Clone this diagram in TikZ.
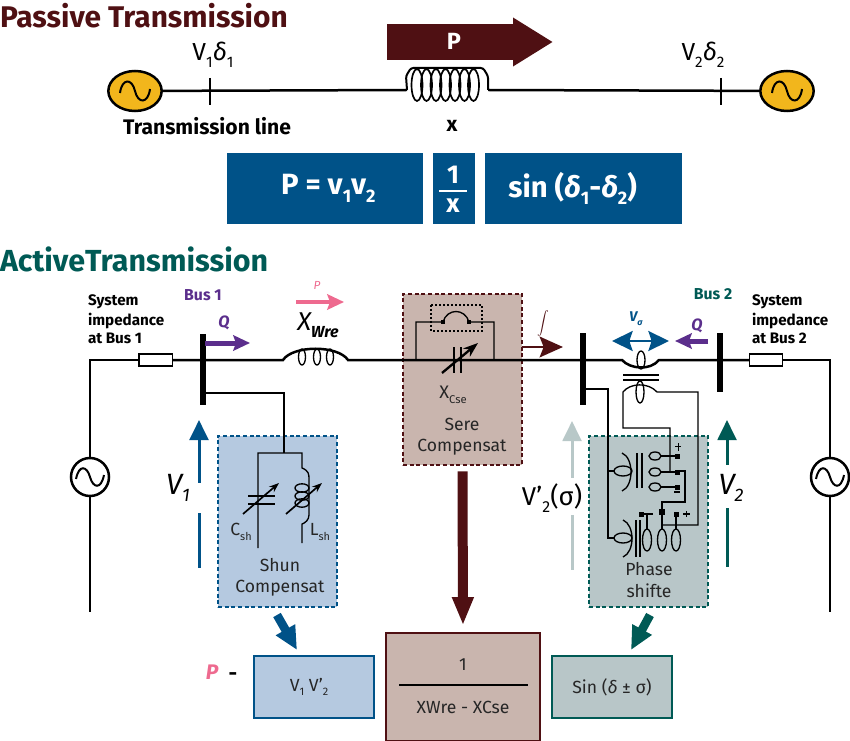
\documentclass[tikz,border=0pt]{standalone}
\usepackage{fontspec}
\usepackage{graphicx}
\setmainfont{Fira Sans}
\setsansfont{Fira Sans}
\definecolor{wine}{HTML}{4F1013}
\definecolor{deepblue}{HTML}{005288}
\definecolor{deepgreen}{HTML}{005A55}
\definecolor{paleblue}{HTML}{B5C9E0}
\definecolor{palerose}{HTML}{C9B5AE}
\definecolor{palegreen}{HTML}{B8C6C8}
\definecolor{violet}{HTML}{5B2E8C}
\definecolor{rosepink}{HTML}{EE6A8F}
\definecolor{golden}{HTML}{F2B61C}
\definecolor{mistgrey}{HTML}{B8C8C8}
\usetikzlibrary{shapes.geometric, arrows.meta, positioning, calc}
\newcommand{\lowidx}[1]{\raisebox{-0.5ex}{\scalebox{0.62}{#1}}}
\newcommand{\fsz}[1]{\fontsize{#1}{#1}\selectfont}

\begin{document}
\begin{tikzpicture}[
  x=0.03cm, y=-0.03cm,
  every node/.style={font=\sffamily, inner sep=0pt, outer sep=0pt},
  wire/.style={line width=0.075cm, black},
  thin wire/.style={line width=0.04cm, black},
  busbar/.style={line width=0.16cm, black},
  gold gen/.style={ellipse, draw=black, fill=golden, line width=0.075cm,
                   minimum width=1.6cm, minimum height=1.2cm},
  round gen/.style={circle, draw=black, fill=white, line width=0.075cm,
                    minimum size=1.14cm},
  formula/.style={rectangle, fill=deepblue, text=white, font=\fsz{25}\bfseries\sffamily,
                  minimum height=2.13cm},
  zone/.style={rectangle, draw=#1, line width=0.07cm, dash pattern=on 0.12cm off 0.08cm,
               minimum width=3.57cm, minimum height=5.13cm},
  result/.style={rectangle, draw=#1, line width=0.08cm, text=black!85,
                 font=\fsz{15}\sffamily},
  caption/.style={font=\fsz{15}\sffamily, text=black!85, align=center},
  syslabel/.style={font=\fsz{13}\bfseries\sffamily, align=left, anchor=north west},
  small text/.style={font=\fsz{15}\sffamily, text=black!85},
  res/.style={rectangle, draw=black, fill=white, line width=0.04cm,
              minimum width=1cm, minimum height=0.36cm},
  term/.style={rectangle, fill=black, minimum size=0.13cm},
  tune/.style={-{Stealth[length=0.3cm,width=0.22cm]}, line width=0.05cm, black},
  flow/.style={-{Stealth[length=0.5cm,width=0.46cm,inset=0.08cm]}, line width=0.15cm},
  volt/.style={-{Triangle[length=0.6cm,width=0.56cm]}, line width=0.09cm},
  fat/.style={-{Triangle[length=0.85cm,width=0.95cm]}, line width=0.3cm}
]
  \useasboundingbox (0,0) rectangle (850,741);

  % passive part
  \node[anchor=west, text=wine, font=\fsz{25.5}\bfseries\sffamily] (passivetitle) at (0,16) {Passive Transmission};

  \node[gold gen] (genA) at (135,91) {};
  \node[gold gen] (genB) at (787,91) {};
  \coordinate (coilL) at (407,90);
  \coordinate (coilR) at (488,90);
  \draw[wire] (genA) -- (coilL);
  \draw[wire] (coilR) -- (genB);
  \draw[wire, line width=0.06cm] (210,78) -- (210,105);
  \draw[wire, line width=0.06cm] (721,78) -- (721,105);
  \foreach \gx in {135,787}
    \draw[wire, line width=0.06cm] (\gx-15,93) .. controls (\gx-13,78) and (\gx-3,78) .. (\gx,91)
                .. controls (\gx+3,104) and (\gx+13,104) .. (\gx+15,89);

  \draw[wire, line width=0.06cm, rounded corners=2pt] (coilL) -- (406,76) -- (411,68) -- (483,68) -- (488,76) -- (coilR);
  \foreach \cx in {417,426.5,436,445.5,455,464.5,473.5}
    \draw[thin wire, line width=0.05cm] (\cx,85) ellipse [x radius=5.5, y radius=16];

  \coordinate (powerA) at (387,42);
  \coordinate (powerB) at (553,42);
  \draw[wine, -{Triangle[length=1.2cm,width=1.38cm]}, line width=1.08cm] (powerA) -- (powerB);
  \node[text=white, font=\fsz{20}\bfseries\sffamily] (powerlabel) at (454,41) {P};

  \node[font=\fsz{21}\sffamily] (busA) at (213,55) {V\lowidx{1}\textit{δ}\lowidx{1}};
  \node[font=\fsz{21}\sffamily] (busB) at (703,55) {V\lowidx{2}\textit{δ}\lowidx{2}};
  \node[font=\fsz{18}\bfseries\sffamily] (linelabel) at (207,126) {Transmission line};
  \node[font=\fsz{18}\bfseries\sffamily] (xlabel) at (452,126) {x};

  \node[formula, minimum width=5.88cm] (formA) at (325,188.5) {\hspace*{0.2cm}P = v\lowidx{1}v\lowidx{2}};
  \node[formula, minimum width=1.26cm] (formB) at (454,188.5) {};
  \node[formula, minimum width=5.91cm] (formC) at (583.5,188.5) {sin (\textit{δ}\lowidx{1}-\textit{δ}\lowidx{2})\hspace{0.65cm}\null};
  \node[text=white, font=\fsz{22}\bfseries\sffamily] (oneup) at (453,175) {1};
  \node[text=white, font=\fsz{22}\bfseries\sffamily] (xdown) at (453,206) {x};
  \draw[white, line width=0.06cm] (439,191.5) -- (467,191.5);

  % active part
  \node[anchor=west, text=deepgreen, font=\fsz{26}\bfseries\sffamily] (activetitle) at (0,259) {ActiveTransmission};

  \node[zone=wine, fill=palerose] (seriesbox) at (462.5,379.5) {};
  \node[zone=deepblue, fill=paleblue] (shuntbox) at (277.5,521.5) {};
  \node[zone=deepgreen, fill=palegreen] (phasebox) at (648.5,521.5) {};

  \node[round gen] (genC) at (90,477) {};
  \node[round gen] (genD) at (830,477) {};
  \foreach \gx in {90,830}
    \draw[wire, line width=0.06cm] (\gx-14,479) .. controls (\gx-11,464) and (\gx-3,466) .. (\gx,477)
                .. controls (\gx+3,488) and (\gx+11,490) .. (\gx+14,475);
  \node[res] (resA) at (155.5,360) {};
  \node[res] (resB) at (766,360) {};
  \coordinate (groundA) at (90,612);
  \coordinate (groundB) at (830,612);
  \draw[wire] (genC) -- (90,360) -- (resA);
  \draw[wire] (genC) -- (groundA);
  \draw[wire] (genD) -- (830,360) -- (resB);
  \draw[wire] (genD) -- (groundB);
  \draw[wire] (resA) -- (283,360) .. controls (293,345) and (338,345) .. (348,360) -- (622,360)
    .. controls (630,369) and (650,371) .. (659,360) -- (resB);
  \foreach \cx in {302,317,330}
    \draw[thin wire] (\cx,357) ellipse [x radius=3.5, y radius=8];
  \draw[busbar] (203,334) -- (203,405);
  \draw[busbar] (583,333) -- (583,405);
  \draw[busbar] (720,333) -- (720,392);

  % shunt branch
  \draw[wire, line width=0.06cm] (203,393) -- (284,393) -- (284,453);
  \draw[thin wire] (258,548) -- (258,453) -- (302,453) -- (302,468)
    .. controls (309,471) and (309,474) .. (309,480) -- (309,515)
    .. controls (309,520) and (305,523) .. (302,524) -- (302,543);
  \draw[wire, line width=0.06cm] (248,496) -- (275,496);
  \draw[wire, line width=0.06cm] (248,504) -- (275,504);
  \foreach \cy in {488,496,503}
    \draw[thin wire] (302,\cy) ellipse [x radius=7, y radius=4.2];
  \draw[tune] (243,514) -- (279,483);
  \draw[tune] (286,514) -- (322,483);
  \node[small text] (csh) at (241,532) {C\lowidx{sh}};
  \node[small text] (lsh) at (320,532) {L\lowidx{sh}};
  \node[caption] (shuntlabel) at (280,577.5) {Shun\\[3pt]Compensat};

  % series branch
  \draw[line width=0.035cm, dash pattern=on 0.06cm off 0.06cm] (431,305) rectangle (482,331);
  \draw[thin wire] (416,360) -- (416,322) -- (443,322) .. controls (447,308) and (465,308) .. (469,322) -- (494,322) -- (494,360);
  \node[term] (sterA) at (443,322) {};
  \node[term] (sterB) at (469,322) {};
  \draw[wire, line width=0.06cm] (454,347) -- (454,373);
  \draw[wire, line width=0.06cm] (461,347) -- (461,373);
  \draw[tune, line width=0.07cm, -{Stealth[length=0.45cm,width=0.32cm]}] (442,373) -- (478,343);
  \node[font=\fsz{15.5}\sffamily, text=black!85] (xcse) at (453,395) {X\lowidx{Cse}};
  \node[caption] (serieslabel) at (462,436.5) {Sere\\[3pt]Compensat};
  \coordinate (sflowA) at (522,347);
  \coordinate (sflowB) at (563,347);
  \draw[wine, -{Stealth[length=0.7cm,width=0.62cm,inset=0.12cm]}, line width=0.08cm] (sflowA) -- (sflowB);
  \node[text=wine, font=\fsz{7}] (sflowlabel) at (543,324) {$\displaystyle\int$};

  % phase shifter
  \draw[thin wire] (583,389) -- (608,389) -- (608,538) -- (615,538);
  \draw[thin wire] (608,471) -- (615,471);
  \draw[wire, line width=0.05cm] (623,375) -- (659,375);
  \draw[wire, line width=0.05cm] (623,380) -- (659,380);
  \draw[thin wire] (641,360) ellipse [x radius=4, y radius=9];
  \draw[thin wire] (640,392) ellipse [x radius=4, y radius=11];
  \draw[thin wire] (670,471) -- (670,428) -- (623,428) -- (623,392)
    .. controls (630,383) and (648,382) .. (657,392) -- (698,392) -- (698,525) -- (662,525);
  \draw[thin wire] (622,453) .. controls (634,458) and (634,486) .. (622,491);
  \draw[thin wire] (623,520) .. controls (635,525) and (635,552) .. (623,557);
  \foreach \px in {637,642}
    \draw[thin wire] (\px,453) -- (\px,488);
  \foreach \px in {636,640}
    \draw[thin wire] (\px,520) -- (\px,557);
  \foreach \py in {471,538}
    \draw[thin wire] (623,\py) ellipse [x radius=9, y radius=5];
  \foreach \py in {456,472,487} {
    \draw[thin wire] (655,\py) ellipse [x radius=6, y radius=4];
    \draw[thin wire] (661,\py) -- (677,\py);
    \node[term, minimum size=0.15cm] at (677,\py) {};
  }
  \draw[thin wire] (677,471) -- (685,471) -- (685,502) -- (662,502) -- (662,525);
  \node[term, minimum size=0.19cm] (sqmid) at (662,512) {};
  \draw[black, line width=0.06cm] (674,492) -- (680,492);
  \draw[black, line width=0.03cm] (675,446) -- (681,446) (678,443) -- (678,451);
  \draw[thin wire] (647,515) -- (647,530);
  \draw[thin wire] (676,515) -- (676,530);
  \draw[thin wire] (662,525) -- (662,530);
  \foreach \px in {647,662,676}
    \draw[thin wire] (\px,540) ellipse [x radius=4.5, y radius=11];
  \node[term, minimum size=0.15cm] (sqA) at (641,514) {};
  \node[term, minimum size=0.15cm] (sqB) at (676,514) {};
  \draw[black, line width=0.08cm] (644,514) -- (653,514);
  \draw[black, line width=0.06cm] (683,514) -- (690,514);
  \draw[black, line width=0.03cm] (686,511) -- (686,517);
  \node[caption] (phaselabel) at (649,580) {Phase\\[3pt]shifte};

  % flow arrows and labels
  \node[text=violet, font=\fsz{13.5}\bfseries\sffamily] (bus1label) at (203,295) {Bus 1};
  \node[text=deepgreen, font=\fsz{13.5}\bfseries\sffamily] (bus2label) at (713,294) {Bus 2};
  \node[syslabel] (sysA) at (88,295) {System\\[2.5pt]impedance\\[2.5pt]at Bus 1};
  \node[syslabel] (sysB) at (752,295) {System\\[2.5pt]impedance\\[2.5pt]at Bus 2};

  \coordinate (qflowA) at (205,343);
  \coordinate (qflowB) at (250,343);
  \draw[violet, flow] (qflowA) -- (qflowB);
  \node[text=violet, font=\fsz{14}\bfseries\itshape\sffamily] (qlabelA) at (224,323) {Q};
  \coordinate (qflowC) at (708,341);
  \coordinate (qflowD) at (675,341);
  \draw[violet, flow] (qflowC) -- (qflowD);
  \node[text=violet, font=\fsz{14}\bfseries\itshape\sffamily] (qlabelB) at (697,326) {Q};
  \coordinate (pflowA) at (296,302);
  \coordinate (pflowB) at (344,302);
  \draw[rosepink, flow, line width=0.11cm] (pflowA) -- (pflowB);
  \node[text=rosepink, font=\fsz{10}\itshape\sffamily] (plabelA) at (317,285) {P};
  \node[font=\fsz{22}\itshape\sffamily] (xwre) at (318,325) {X\lowidx{\bfseries Wre}};
  \coordinate (vflowA) at (612,341);
  \coordinate (vflowB) at (669,341);
  \draw[deepblue, {Stealth[length=0.62cm,width=0.6cm,inset=0.1cm]}-{Stealth[length=0.62cm,width=0.6cm,inset=0.1cm]}, line width=0.06cm] (vflowA) -- (vflowB);
  \node[text=deepblue, font=\fsz{12}\bfseries\itshape\sffamily] (vlabel) at (636,319) {V\lowidx{σ}};

  % voltage arrows
  \draw[deepblue, volt] (199,441) -- (199,420);
  \draw[deepblue, line width=0.09cm] (199,440) -- (199,483);
  \draw[deepblue, line width=0.09cm] (199,513) -- (199,568);
  \node[font=\fsz{25}\itshape\sffamily] (v1label) at (178,488) {V\lowidx{1}};

  \draw[mistgrey, volt] (572,441) -- (572,421);
  \draw[mistgrey, line width=0.09cm] (572,440) -- (572,478);
  \draw[mistgrey, line width=0.09cm] (572,515) -- (572,570);
  \node[font=\fsz{22}\sffamily] (vplabel) at (552,498) {V’\lowidx{2}(σ)};

  \draw[deepgreen, volt] (727,441) -- (727,420);
  \draw[deepgreen, line width=0.09cm] (727,440) -- (727,465);
  \draw[deepgreen, line width=0.09cm] (727,508) -- (727,567);
  \node[font=\fsz{25}\itshape\sffamily] (v2label) at (731,488) {V\lowidx{2}};

  % result row
  \node[result=deepblue, fill=paleblue, minimum width=3.6cm, minimum height=1.86cm] (numbox) at (314,687) {V\lowidx{1} V’\lowidx{2}\hspace{0.3cm}\null};
  \node[result=wine, fill=palerose, minimum width=4.62cm, minimum height=3.24cm] (denombox) at (463,687) {};
  \node[result=deepgreen, fill=palegreen, minimum width=3.6cm, minimum height=1.86cm] (sinbox) at (612,687) {Sin (\textit{δ} ± σ)};
  \node[font=\fsz{15}\sffamily, text=black!85] (oneover) at (463,665) {1};
  \node[font=\fsz{15}\sffamily, text=black!85] (overunder) at (463,707) {XWre - XCse};
  \draw[black, line width=0.045cm] (399,685) -- (528,685);
  \node[text=rosepink, font=\fsz{18}\bfseries\itshape\sffamily] (plabelB) at (212,672) {P};
  \node[font=\fsz{18}\bfseries\sffamily] (minuslabel) at (233,677) {-};

  \draw[wine, fat, shorten <=5.5pt, shorten >=6.5pt, line width=0.3cm, -{Triangle[length=0.85cm,width=0.6cm]}] (seriesbox.south) -- (denombox.north);
  \coordinate (numstart) at (277,615);
  \coordinate (numtip) at (297,650);
  \draw[deepblue, fat, -{Triangle[length=0.7cm,width=0.62cm]}, line width=0.26cm] (numstart) -- (numtip);
  \coordinate (sinstart) at (650,615);
  \coordinate (sintip) at (631,650);
  \draw[deepgreen, fat, -{Triangle[length=0.7cm,width=0.62cm]}, line width=0.26cm] (sinstart) -- (sintip);
\end{tikzpicture}
\end{document}
